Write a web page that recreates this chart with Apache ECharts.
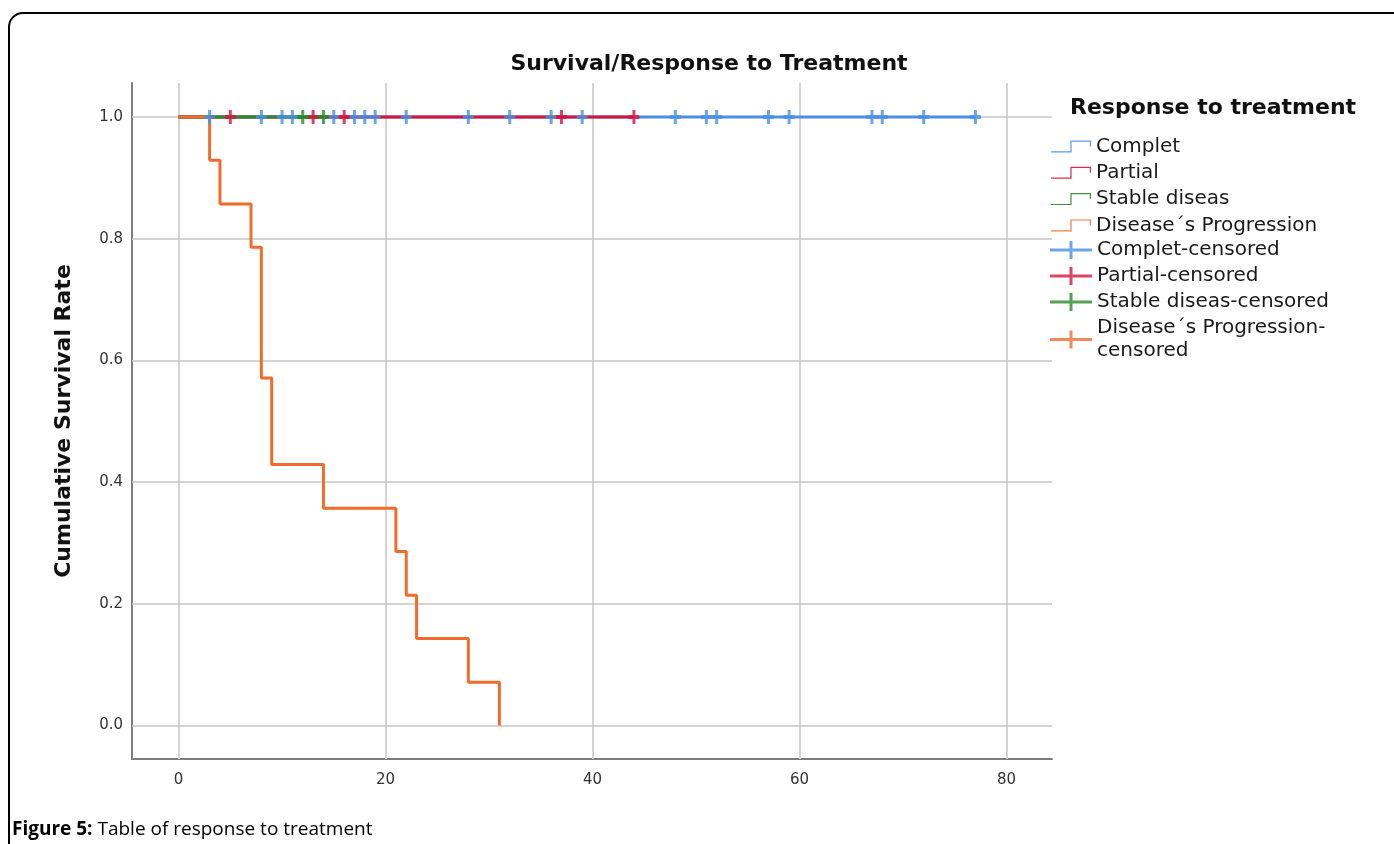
<!DOCTYPE html>
<html>
<head>
<meta charset="utf-8">
<title>Survival/Response to Treatment</title>
<script src="https://cdn.jsdelivr.net/npm/echarts@6/dist/echarts.min.js"></script>
<style>
  html, body { margin: 0; padding: 0; background: #fff; }
  #chart { width: 1394px; height: 844px; }
</style>
</head>
<body>
<div id="chart"></div>
<script>
// tick labels
const xTicks = [0, 20, 40, 60, 80];
const yTicks = [0, 0.2, 0.4, 0.6, 0.8, 1.0];

// survival steps [time, cumulative survival]
const completLine = [[0, 1], [77, 1]];
const partialLine = [[0, 1], [44, 1]];
const stableLine = [[0, 1], [14, 1]];
const progressionLine = [
  [0, 1], [3, 0.929], [4, 0.857], [7, 0.786], [8, 0.571], [9, 0.429],
  [14, 0.357], [21, 0.286], [22, 0.214], [23, 0.143], [28, 0.071], [31, 0]
];

// censored times (all at survival 1.0)
const completCensored = [3, 8, 10, 11, 15, 17, 18, 19, 22, 28, 32, 36, 39, 48, 51, 52, 57, 59, 67, 68, 72, 77];
const partialCensored = [5, 13, 16, 37, 44];
const stableCensored = [12, 14];
const progressionCensored = [];

const groups = ['Complet', 'Partial', 'Stable diseas', 'Disease\u00b4s Progression'];
const colors = ['#4a8fe4', '#d4143e', '#2b8a2b', '#f26b2c'];

const stepIcon = 'path://M0,10.8 L19.4,10.8 L19.4,0 L40,0 L40,6 L38.8,6 L38.8,1.2 L20.6,1.2 L20.6,12 L0,12 Z';
const crossIcon = 'path://M0,7.5 L42,7.5 L42,10.5 L0,10.5 Z M19.5,0 L22.5,0 L22.5,18 L19.5,18 Z';
const crossSymbol = 'path://M0,5 L11,5 L11,9 L0,9 Z M4,0 L7,0 L7,14 L4,14 Z';

const lines = [completLine, partialLine, stableLine, progressionLine];
const censored = [completCensored, partialCensored, stableCensored, progressionCensored];

let myChart = echarts.init(document.getElementById('chart'));

const series = [];
// gridlines behind everything
series.push({
  name: 'grid',
  type: 'line',
  data: [],
  z: 1,
  silent: true,
  markLine: {
    silent: true,
    symbol: 'none',
    label: { show: false },
    animation: false,
    data: xTicks.map(v => ({ xAxis: v, lineStyle: { color: '#d4d4d4', width: 2, type: 'solid' } }))
      .concat(yTicks.map(v => ({ yAxis: v, lineStyle: { color: '#c6c6c6', width: 1.5, type: 'solid' } })))
  }
});
lines.forEach((d, i) => {
  series.push({
    name: groups[i],
    type: 'line',
    step: 'end',
    data: d,
    showSymbol: false,
    zlevel: 1,
    z: 3,
    lineStyle: { color: colors[i], width: 3 },
    itemStyle: { color: colors[i] }
  });
});
censored.forEach((d, i) => {
  series.push({
    name: groups[i] + '-censored',
    type: 'scatter',
    data: d.map(t => [t, 1]),
    symbol: crossSymbol,
    symbolSize: [11, 14],
    zlevel: 1,
    z: 4,
    itemStyle: { color: colors[i] }
  });
});

myChart.setOption({
  animation: false,
  textStyle: { fontFamily: 'DejaVu Sans' },
  graphic: [
    {
      type: 'rect',
      shape: { x: 9, y: 13, width: 1420, height: 900, r: 14 },
      style: { fill: 'none', stroke: '#000', lineWidth: 2 }
    },
    {
      type: 'text',
      x: 709, y: 64,
      style: {
        text: 'Survival/Response to Treatment',
        fontFamily: 'DejaVu Sans', fontWeight: 'bold', fontSize: 22,
        fill: '#111', align: 'center', verticalAlign: 'middle'
      }
    },
    {
      type: 'text',
      x: 1070, y: 108,
      style: {
        text: 'Response to treatment',
        fontFamily: 'DejaVu Sans', fontWeight: 'bold', fontSize: 22,
        fill: '#111', align: 'left', verticalAlign: 'middle'
      }
    },
    {
      type: 'text',
      x: 12, y: 830,
      style: {
        rich: {
          b: { fontFamily: 'Open Sans', fontWeight: 'bold', fontSize: 19, fill: '#000' },
          n: { fontFamily: 'Open Sans', fontSize: 19, fill: '#000' }
        },
        text: '{b|Figure 5:}{n| Table of response to treatment}',
        verticalAlign: 'middle'
      }
    }
  ],
  legend: [
    {
      orient: 'vertical',
      left: 1051, top: 135,
      padding: 0,
      itemWidth: 40, itemHeight: 12,
      itemGap: 3.3,
      selectedMode: false,
      textStyle: { fontFamily: 'DejaVu Sans', fontSize: 20, color: '#1a1a1a', lineHeight: 23 },
      data: groups.map((g, i) => ({ name: g, icon: stepIcon, itemStyle: { color: colors[i], opacity: 0.9 } }))
    },
    {
      orient: 'vertical',
      left: 1050, top: 238.5,
      padding: 0,
      itemWidth: 42, itemHeight: 18,
      itemGap: 3,
      selectedMode: false,
      textStyle: { fontFamily: 'DejaVu Sans', fontSize: 20, color: '#1a1a1a', lineHeight: 23 },
      formatter: function (name) {
        return name === 'Disease\u00b4s Progression-censored' ? 'Disease\u00b4s Progression-\ncensored' : name;
      },
      data: groups.map((g, i) => ({ name: g + '-censored', icon: crossIcon, itemStyle: { color: colors[i] } }))
    }
  ],
  grid: { left: 132, top: 83, width: 920, height: 676, containLabel: false },
  xAxis: {
    type: 'value',
    min: -4.5, max: 84.4,
    splitLine: { show: false },
    axisTick: { show: false },
    axisLine: { onZero: false, lineStyle: { color: '#7d7d7d', width: 2 } },
    axisLabel: { customValues: xTicks, fontSize: 15, color: '#333', margin: 14 }
  },
  yAxis: {
    type: 'value',
    min: -0.055, max: 1.056,
    name: 'Cumulative Survival Rate',
    nameLocation: 'middle',
    nameRotate: 90,
    nameGap: 57,
    nameTextStyle: { fontFamily: 'DejaVu Sans', fontWeight: 'bold', fontSize: 22, color: '#111' },
    splitLine: { show: false },
    axisTick: { show: false },
    axisLine: { onZero: false, lineStyle: { color: '#7d7d7d', width: 2 } },
    axisLabel: { customValues: yTicks, fontSize: 15, color: '#333', margin: 9, formatter: v => v.toFixed(1) }
  },
  series: series
});
</script>
</body>
</html>
